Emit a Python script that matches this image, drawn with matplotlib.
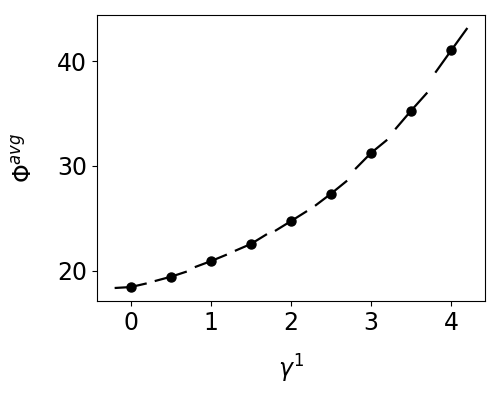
import numpy as np
import matplotlib
matplotlib.use('Agg')
import matplotlib.pyplot as plt

# measured points
gamma = [0.0, 0.5, 1.0, 1.5, 2.0, 2.5, 3.0, 3.5, 4.0]
phi_avg = [18.45, 19.43, 20.92, 22.56, 24.74, 27.36, 31.25, 35.29, 41.04]

# fitted curve, read at the ends of each dash (x +/- 0.2 around each point)
dash_half = 0.2
fit_left = [18.36, 19.02, 20.35, 21.90, 23.80, 26.20, 29.70, 33.50, 38.90]
fit_right = [18.80, 19.93, 21.55, 23.50, 25.70, 28.60, 32.50, 37.00, 43.16]

fig = plt.figure(figsize=(5, 4), dpi=100)
ax = fig.add_axes([0.194, 0.2475, 0.776, 0.715])

for x, y, yl, yr in zip(gamma, phi_avg, fit_left, fit_right):
    ax.plot([x - dash_half, x, x + dash_half], [yl, y, yr], color='black', lw=1.6,
            solid_capstyle='butt')
ax.plot(gamma, phi_avg, 'o', color='black', markersize=6.5)

ax.set_xticks([0, 1, 2, 3, 4])
ax.set_yticks([20, 30, 40])
ax.tick_params(labelsize=17)
ax.set_xlabel(r'$\gamma^1$', fontsize=17, labelpad=13)
ax.set_ylabel(r'$\Phi^{avg}$', fontsize=17, labelpad=15)

fig.savefig('out.png', dpi=100)
